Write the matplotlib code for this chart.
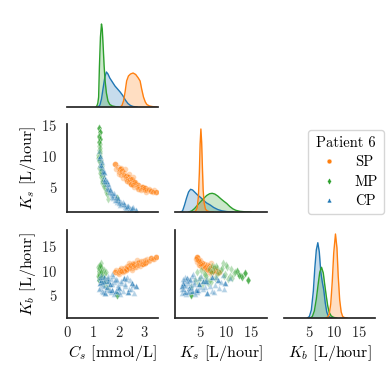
import numpy as np
import matplotlib
matplotlib.use('Agg')
import matplotlib.pyplot as plt
from matplotlib.lines import Line2D

plt.rcParams['font.family'] = 'serif'
plt.rcParams['font.serif'] = ['cmr10']
plt.rcParams['mathtext.fontset'] = 'cm'
plt.rcParams['axes.formatter.use_mathtext'] = True
plt.rcParams['font.size'] = 10

groups = ['SP', 'MP', 'CP']
colors = {'SP': '#ff7f0e', 'MP': '#2ca02c', 'CP': '#1f77b4'}
markers = {'SP': 'o', 'MP': 'd', 'CP': '^'}

# posterior samples (Cs, Ks, Kb) with repeat counts
cs_sp = [1.85, 1.95, 2.05, 2.00, 2.12, 2.20, 2.15, 2.28, 2.35, 2.30, 2.42, 2.50, 2.45, 2.58, 2.65, 2.60,
         2.72, 2.80, 2.78, 2.88, 2.95, 3.02, 3.10, 3.05, 3.18, 3.25, 3.35, 3.42, 2.25, 2.55, 2.70, 2.38,
         1.90, 2.02, 2.10, 2.18, 2.26, 2.33, 2.40, 2.48, 2.55, 2.62, 2.75, 2.85, 2.92, 3.00, 3.15, 3.30,
         2.08, 2.52]
ks_sp = [8.6, 8.2, 7.8, 7.0, 7.5, 7.2, 6.4, 6.8, 6.6, 5.9, 6.2, 6.0, 5.4, 5.7, 5.4, 4.9,
         5.2, 5.0, 4.6, 4.9, 4.6, 4.8, 4.4, 4.2, 4.5, 4.3, 4.4, 4.2, 7.8, 6.6, 4.9, 7.0,
         7.9, 7.3, 6.9, 6.9, 6.3, 6.0, 5.7, 5.5, 5.2, 5.8, 4.7, 4.5, 5.0, 4.4, 4.7, 4.1,
         8.0, 6.3]
kb_sp = [9.8, 9.5, 10.2, 9.4, 10.0, 10.5, 9.8, 10.1, 10.8, 10.3, 11.2, 10.6, 10.9, 11.4, 10.7, 11.2,
         11.6, 10.9, 11.8, 11.3, 12.0, 11.5, 12.3, 11.7, 12.1, 12.6, 12.3, 12.7, 10.6, 11.0, 12.1, 11.5,
         10.1, 9.7, 10.6, 9.9, 10.4, 11.0, 10.5, 11.1, 11.5, 10.8, 11.2, 11.9, 11.4, 12.2, 11.9, 12.4,
         9.9, 10.2]
n_sp = [3, 1, 4, 1, 3, 1, 1, 4, 3, 1, 4, 1, 3, 4, 1, 1, 3, 1, 1, 3, 1, 4, 1, 1, 1, 3, 1, 3, 1, 1, 1, 1,
        1, 1, 1, 1, 1, 1, 1, 1, 1, 1, 1, 1, 1, 1, 1, 1, 1, 1]

cs_mp = [1.25, 1.26, 1.24, 1.27, 1.25, 1.23, 1.22, 1.28, 1.21, 1.24, 1.30, 1.27, 1.33, 1.29, 1.36,
         1.32, 1.40, 1.35, 1.44, 1.38, 1.47, 1.42, 1.52, 1.60, 1.23, 1.31, 1.20, 1.26, 1.92, 1.34,
         1.22, 1.26, 1.29, 1.24, 1.34, 1.38, 1.30, 1.45, 1.50, 1.28, 1.36, 1.41, 1.55, 1.27, 1.33]
ks_mp = [14.5, 13.8, 13.2, 12.7, 12.3, 11.6, 11.0, 10.8, 10.2, 9.8, 9.4, 9.0, 8.6, 8.2, 7.8,
         7.4, 7.0, 6.7, 6.2, 5.8, 5.3, 4.9, 4.2, 3.0, 8.0, 6.5, 9.6, 7.2, 3.1, 5.6,
         13.0, 11.9, 10.5, 9.2, 8.3, 6.9, 7.6, 5.6, 4.5, 10.0, 6.0, 5.1, 3.8, 11.3, 7.1]
kb_mp = [8.0, 9.5, 8.8, 9.2, 10.0, 9.6, 10.4, 9.0, 10.8, 9.4, 11.5, 10.1, 9.7, 10.6, 8.6,
         9.9, 7.6, 10.3, 8.2, 9.1, 7.0, 8.5, 9.8, 6.6, 11.0, 7.4, 8.9, 10.9, 5.0, 7.9,
         9.0, 9.8, 8.4, 10.5, 9.3, 8.0, 10.7, 9.5, 7.5, 11.2, 9.0, 10.2, 8.1, 8.6, 9.8]
n_mp = [4, 4, 3, 4, 3, 1, 1, 1, 1, 1, 1, 1, 1, 1, 1, 1, 1, 1, 1, 1, 1, 1, 1, 1, 1, 1, 1, 1, 4, 1,
        1, 1, 1, 1, 1, 1, 1, 1, 1, 1, 1, 1, 1, 1, 1]

cs_cp = [1.22, 1.26, 1.30, 1.28, 1.33, 1.37, 1.35, 1.41, 1.44, 1.40, 1.48, 1.52, 1.50, 1.57, 1.60, 1.55,
         1.65, 1.70, 1.68, 1.75, 1.82, 1.78, 1.88, 1.95, 1.92, 2.02, 2.10, 2.06, 2.18, 2.25, 2.22, 2.35,
         2.42, 2.40, 2.52, 2.60, 2.66, 1.46, 1.62, 1.85,
         1.24, 1.31, 1.38, 1.43, 1.53, 1.58, 1.66, 1.73, 1.80, 1.90, 1.98, 2.08, 2.15, 2.30, 2.45, 2.56,
         1.34, 1.72, 2.00, 2.28]
ks_cp = [10.8, 9.9, 9.4, 8.6, 8.5, 7.9, 7.2, 7.3, 6.8, 6.2, 6.3, 6.0, 5.4, 5.5, 5.0, 4.8,
         4.7, 4.3, 3.9, 4.0, 3.6, 3.2, 3.3, 3.0, 2.6, 2.7, 2.5, 2.1, 2.2, 2.0, 1.7, 1.8,
         1.6, 1.3, 1.5, 1.3, 1.2, 5.8, 4.2, 2.9,
         9.6, 8.0, 7.6, 6.0, 5.9, 4.6, 4.5, 3.7, 3.9, 2.8, 3.1, 2.2, 2.6, 1.9, 1.4, 1.7,
         9.0, 3.4, 2.4, 1.5]
kb_cp = [8.6, 7.4, 9.2, 6.5, 8.0, 7.1, 5.8, 8.8, 6.9, 7.6, 5.5, 8.3, 6.2, 7.8, 9.0, 6.6,
         7.3, 5.6, 8.4, 6.1, 7.7, 8.9, 5.9, 7.0, 8.1, 6.4, 7.5, 5.3, 8.6, 6.8, 7.2, 5.7,
         8.0, 6.3, 7.4, 5.4, 6.9, 7.9, 6.0, 8.2,
         6.2, 8.7, 5.6, 7.9, 6.7, 8.5, 6.0, 7.2, 5.2, 8.4, 6.6, 7.8, 5.9, 8.8, 6.2, 7.1,
         7.7, 9.3, 5.6, 8.3]
n_cp = [1, 3, 1, 1, 3, 1, 1, 3, 1, 1, 3, 1, 1, 3, 1, 1, 3, 1, 1, 3,
        1, 1, 3, 1, 1, 3, 1, 1, 3, 1, 1, 3, 1, 1, 3, 1, 3, 1, 1, 1,
        1, 1, 1, 1, 1, 1, 1, 1, 1, 1, 1, 1, 1, 1, 1, 1, 1, 1, 1, 1]

samples = {
    'SP': (cs_sp, ks_sp, kb_sp, n_sp),
    'MP': (cs_mp, ks_mp, kb_mp, n_mp),
    'CP': (cs_cp, ks_cp, kb_cp, n_cp),
}

# diagonal density curves (height)
cs_grid_sp = [2.05, 2.12, 2.18, 2.24, 2.30, 2.37, 2.45, 2.55, 2.65, 2.75, 2.82, 2.88, 2.95, 3.02, 3.08, 3.18, 3.30, 3.45]
cs_dens_sp = [0, 1.5, 6, 15, 26, 31, 33, 34, 32.5, 29, 26, 18, 10, 5, 2.5, 1, 0.4, 0]
cs_grid_mp = [1.12, 1.16, 1.19, 1.22, 1.25, 1.29, 1.33, 1.36, 1.40, 1.43, 1.47, 1.52, 1.58, 1.65, 1.75, 1.90, 2.00]
cs_dens_mp = [0, 1.5, 4, 10, 40, 70, 83, 78, 58, 42, 26, 14, 6, 2.5, 1, 0.2, 0]
cs_grid_cp = [1.20, 1.27, 1.33, 1.40, 1.46, 1.52, 1.58, 1.65, 1.75, 1.85, 1.95, 2.05, 2.15, 2.25, 2.35, 2.45, 2.55, 2.70]
cs_dens_cp = [0, 2, 8, 20, 30, 35, 33, 29, 25, 21, 18, 15, 11.5, 7, 3.5, 1.5, 0.5, 0]

ks_grid_sp = [3.6, 4.0, 4.3, 4.55, 4.75, 4.9, 5.05, 5.2, 5.35, 5.5, 5.7, 5.95, 6.3, 6.8, 7.5]
ks_dens_sp = [0, 0.8, 4, 15, 40, 68, 83, 70, 45, 22, 9, 3, 1, 0.3, 0]
ks_grid_mp = [2.6, 3.2, 3.8, 4.4, 5.0, 5.6, 6.2, 6.8, 7.3, 7.8, 8.4, 9.0, 9.6, 10.2, 10.8, 11.4, 12.0, 12.8, 13.8, 15.0]
ks_dens_mp = [0, 1, 3.5, 7, 10.3, 13.5, 16.5, 18.3, 18.7, 18, 16, 13.3, 10.8, 8.5, 5.5, 3.2, 1.7, 0.7, 0.2, 0]
ks_grid_cp = [1.0, 1.4, 1.8, 2.2, 2.6, 3.0, 3.4, 3.9, 4.5, 5.0, 5.6, 6.2, 6.9, 7.6, 8.4, 9.2, 10.2, 11.5]
ks_dens_cp = [0, 1, 7, 14, 20, 22.7, 22, 19.5, 16.5, 14.5, 11.5, 9, 7, 4.5, 2.5, 1.2, 0.4, 0]

kb_grid_sp = [8.3, 8.7, 9.0, 9.3, 9.6, 9.9, 10.25, 10.55, 10.8, 11.1, 11.4, 11.7, 12.1, 12.6]
kb_dens_sp = [0, 1, 4, 14, 36, 65, 84, 70, 42, 18, 6, 1.5, 0.3, 0]
kb_grid_mp = [5.2, 5.6, 6.0, 6.4, 6.8, 7.1, 7.45, 7.8, 8.1, 8.4, 8.7, 9.0, 9.4, 9.9, 10.5]
kb_dens_mp = [0, 1.5, 7, 19, 35, 46, 50.7, 45, 33, 22, 12, 5.5, 2, 0.6, 0]
kb_grid_cp = [4.6, 5.0, 5.4, 5.8, 6.1, 6.4, 6.7, 7.0, 7.3, 7.6, 7.9, 8.2, 8.5, 8.8, 9.2, 9.8]
kb_dens_cp = [0, 1.5, 8, 27, 50, 68, 75.3, 66, 46, 36, 28, 15, 6, 2, 0.5, 0]

diag = {
    0: {'SP': (cs_grid_sp, cs_dens_sp), 'MP': (cs_grid_mp, cs_dens_mp), 'CP': (cs_grid_cp, cs_dens_cp)},
    1: {'SP': (ks_grid_sp, ks_dens_sp), 'MP': (ks_grid_mp, ks_dens_mp), 'CP': (ks_grid_cp, ks_dens_cp)},
    2: {'SP': (kb_grid_sp, kb_dens_sp), 'MP': (kb_grid_mp, kb_dens_mp), 'CP': (kb_grid_cp, kb_dens_cp)},
}

labels = [r'$C_s$ [mmol/L]', r'$K_s$ [L/hour]', r'$K_b$ [L/hour]']
lims = [(0, 3.51), (0.9, 15.15), (0.35, 18.3)]
col_lims = [(0, 3.51), (-0.1, 18.2), (-0.1, 18.2)]
col_ticks = [[0, 1, 2, 3], [5, 10, 15], [5, 10, 15]]

W, H = 392, 367
fig = plt.figure(figsize=(W / 100, H / 100), dpi=100)
lefts = [67, 175, 284]
widths = [91, 92, 91]
tops = [18, 124, 230]
heights = [89, 88, 88]

axes = {}
for i in range(3):
    for j in range(i + 1):
        ax = fig.add_axes([lefts[j] / W, 1 - (tops[i] + heights[i]) / H, widths[j] / W, heights[i] / H])
        axes[i, j] = ax
        for s in ['top', 'right']:
            ax.spines[s].set_visible(False)
        for s in ['left', 'bottom']:
            ax.spines[s].set_color('0.15')
            ax.spines[s].set_linewidth(1.25)
        ax.tick_params(length=0, colors='0.15', labelsize=10.5)
        ax.tick_params(axis='x', pad=5)
        ax.tick_params(axis='y', pad=7)
        ax.set_xlim(col_lims[j])
        ax.set_xticks(col_ticks[j])
        if i != 2:
            ax.set_xticklabels([])
        else:
            ax.set_xlabel(labels[j], labelpad=2, fontsize=11.5)

for i in range(3):
    for j in range(i + 1):
        ax = axes[i, j]
        if i == j:
            ax.spines['left'].set_visible(False)
            ax.set_yticks([])
            for g in ['CP', 'MP', 'SP']:
                x, h = diag[i][g]
                ax.fill_between(x, h, color=colors[g], alpha=0.25, lw=0)
                ax.plot(x, h, color=colors[g], lw=1.0)
            ax.set_ylim(0, heights[i])
        else:
            ax.set_ylim(lims[i])
            ax.set_yticks([5, 10, 15])
            if j == 0:
                ax.set_ylabel(labels[i], labelpad=2, fontsize=11.5)
            else:
                ax.set_yticklabels([])
            for g in groups:
                d = samples[g]
                xs = np.repeat(d[j], d[3])
                ys = np.repeat(d[i], d[3])
                ax.scatter(xs, ys, s=17, c=colors[g], marker=markers[g],
                           edgecolors='white', linewidths=0.4, alpha=0.33)

handles = [Line2D([], [], ls='', marker=markers[g], color=colors[g], markersize=3.5,
                  markeredgecolor='white', markeredgewidth=0.3) for g in groups]
leg = fig.legend(handles, groups, title='Patient 6', loc='upper left',
                 bbox_to_anchor=(301 / W, 1 - 123 / H), frameon=True, fontsize=10.5,
                 title_fontsize=10.5, labelspacing=0.4, borderpad=0.4)
leg.get_frame().set_edgecolor('0.8')

fig.savefig('out.png', dpi=100)
